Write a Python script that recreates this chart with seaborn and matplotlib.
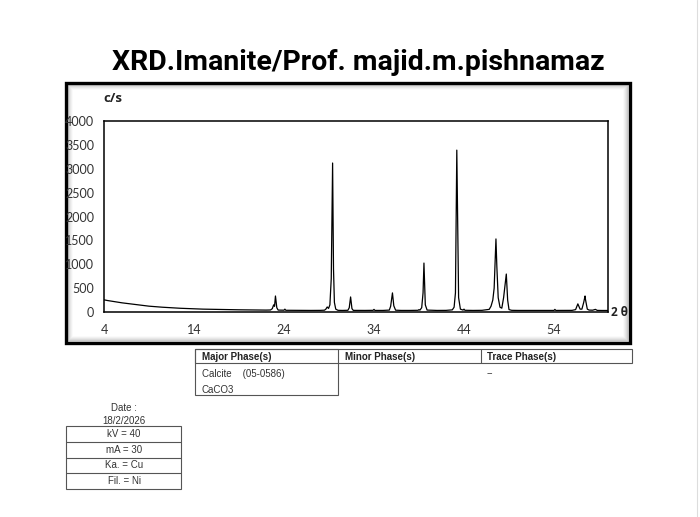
import matplotlib
matplotlib.use("Agg")
import matplotlib.pyplot as plt
from matplotlib.patches import Rectangle
from matplotlib.ticker import MultipleLocator, FixedLocator
import seaborn as sns
import pandas as pd

# ---- data ----
two_theta = [4.0, 4.4, 4.8, 5.2, 5.6, 6.0, 6.5, 7.0, 7.5, 8.0, 8.5, 9.0, 9.5, 10.0, 10.5,
             11.0, 11.5, 12.0, 12.5, 13.0, 13.5, 14.0, 14.5, 15.0, 16.0, 17.0, 18.0, 19.0,
             20.0, 21.0, 22.0, 22.5, 22.7, 22.85, 22.95, 23.05, 23.2, 23.35, 24.0, 24.1, 24.2,
             25.0, 26.0, 27.0, 28.0, 28.5, 28.65, 28.8, 28.95, 29.1, 29.25, 29.4, 29.5, 29.6,
             29.75, 30.0, 30.5, 31.1, 31.25, 31.4, 31.55, 31.7, 32.5, 33.0, 33.9, 34.0, 34.1,
             35.0, 35.7, 35.85, 36.05, 36.2, 36.4, 37.0, 38.0, 38.9, 39.0, 39.1, 39.3, 39.45,
             39.55, 39.7, 39.9, 41.0, 42.0, 42.7, 42.9, 43.05, 43.2, 43.3, 43.4, 43.6, 43.9,
             44.0, 44.1, 45.0, 46.0, 46.8, 47.0, 47.2, 47.35, 47.55, 47.65, 47.8, 48.0, 48.2,
             48.4, 48.7, 48.85, 49.0, 49.3, 50.0, 51.0, 52.0, 53.0, 54.0, 54.1, 54.2, 55.0,
             56.0, 56.4, 56.65, 56.9, 57.1, 57.3, 57.45, 57.5, 57.7, 57.9, 58.3, 58.6, 58.8,
             59.3, 60.0]
counts = [255, 240, 228, 215, 205, 192, 180, 168, 155, 142, 132, 122, 114, 106, 100,
          94, 88, 82, 78, 74, 70, 66, 63, 60, 56, 52, 49, 46,
          44, 42, 40, 42, 70, 150, 120, 335, 90, 40, 38, 60, 36,
          35, 34, 33, 34, 38, 60, 105, 75, 150, 700, 3120, 900, 200,
          60, 35, 33, 36, 90, 315, 70, 34, 32, 33, 35, 55, 33,
          33, 40, 120, 400, 130, 38, 33, 33, 36, 50, 38, 90, 400,
          1025, 150, 40, 33, 34, 45, 100, 400, 3390, 1900, 300, 60, 40,
          60, 36, 33, 35, 55, 120, 250, 500, 1530, 950, 300, 100, 80,
          300, 795, 250, 50, 35, 33, 33, 33, 33, 33, 55, 33, 33,
          34, 50, 170, 60, 60, 200, 335, 260, 60, 40, 38, 55, 34,
          32, 32]

x_major = [4, 14, 24, 34, 44, 54]
x_minor = [9, 19, 29, 39, 49, 59]
y_major = [0, 500, 1000, 1500, 2000, 2500, 3000, 3500, 4000]

title = "XRD.Imanite/Prof. majid.m.pishnamaz"
phase_headers = ["Major Phase(s)", "Minor Phase(s)", "Trace Phase(s)"]
major_rows = ["Calcite    (05-0586)", "CaCO3"]
trace_rows = ["--"]
date_lines = ["Date :", "18/2/2026"]
cond_rows = ["kV = 40", "mA = 30", "Ka. = Cu", "Fil. = Ni"]

df = pd.DataFrame({"two_theta": two_theta, "counts": counts})

sns.set_style("white")
plt.rcParams["font.family"] = ["Liberation Sans", "DejaVu Sans"]

W, H = 700, 517
fig = plt.figure(figsize=(W / 100, H / 100), dpi=100)

# overlay axes in pixel coordinates for the frame, title and tables
ov = fig.add_axes([0, 0, 1, 1], zorder=0)
ov.set_xlim(0, W)
ov.set_ylim(H, 0)
ov.axis("off")

# framed chart box with a soft inner shadow
for i, a in enumerate([0.14, 0.10, 0.07, 0.045, 0.025]):
    ov.add_patch(Rectangle((66 + 2 + i, 83 + 2 + i), 564 - 4 - 2 * i, 260 - 4 - 2 * i,
                           fill=False, ec="black", lw=1.2, alpha=a))
ov.add_patch(Rectangle((66, 83), 564, 260, fill=False, ec="black", lw=2.4))
ov.plot([697, 697], [0, H], color="#dddddd", lw=0.8)

ov.text(358, 62, title, ha="center", va="center", fontsize=20.5, fontweight="bold",
        family=["Roboto", "DejaVu Sans"], color="black")
ov.text(103, 98, "c/s", ha="left", va="center", fontsize=9.5, fontweight="bold",
        family=["Open Sans", "DejaVu Sans"], color="#222222")
ov.text(611, 312, "2 θ", ha="left", va="center", fontsize=8.5, fontweight="bold",
        family=["Open Sans", "DejaVu Sans"], color="#222222")

# phase table
tc = "#555555"
ov.add_patch(Rectangle((195, 349), 632 - 195, 14, fill=False, ec=tc, lw=0.8))
ov.add_patch(Rectangle((195, 349), 338 - 195, 395 - 349, fill=False, ec=tc, lw=0.8))
ov.plot([481, 481], [349, 363], color=tc, lw=0.8)
for xh, txt in zip([202, 345, 487], phase_headers):
    ov.text(xh, 356.5, txt, ha="left", va="center", fontsize=7, fontweight="bold", color="#222222")
for yy, txt in zip([374, 390], major_rows):
    ov.text(202, yy, txt, ha="left", va="center", fontsize=7, color="#333333")
for yy, txt in zip([373], trace_rows):
    ov.text(487, yy, txt, ha="left", va="center", fontsize=7, color="#333333")

# measurement conditions
for yy, txt in zip([408, 421], date_lines):
    ov.text(124, yy, txt, ha="center", va="center", fontsize=7, color="#333333")
row_y = [426, 442, 458, 473, 489]
ov.add_patch(Rectangle((66, row_y[0]), 115, row_y[-1] - row_y[0], fill=False, ec=tc, lw=0.8))
for yy in row_y[1:-1]:
    ov.plot([66, 181], [yy, yy], color=tc, lw=0.8)
for i, txt in enumerate(cond_rows):
    ov.text(124, (row_y[i] + row_y[i + 1]) / 2, txt, ha="center", va="center",
            fontsize=7, color="#333333")

# main XRD axes
ax = fig.add_axes([104 / W, 1 - 312 / H, (608 - 104) / W, (312 - 121) / H], zorder=2)
ax.patch.set_alpha(0)
sns.lineplot(data=df, x="two_theta", y="counts", ax=ax, color="black", lw=0.9,
             estimator=None, sort=False)
ax.set_xlim(4, 60)
ax.set_ylim(0, 4000)
ax.set_xlabel("")
ax.set_ylabel("")
ax.xaxis.set_major_locator(FixedLocator(x_major))
ax.xaxis.set_minor_locator(FixedLocator(x_minor))
ax.yaxis.set_major_locator(FixedLocator(y_major))
ax.yaxis.set_minor_locator(MultipleLocator(100))
for s in ax.spines.values():
    s.set_visible(True)
    s.set_color("black")
    s.set_linewidth(1.1)
ax.tick_params(axis="both", which="major", direction="in", length=3, width=0.9,
               colors="black", labelcolor="#333333", labelsize=9)
ax.tick_params(axis="x", which="major", pad=9)
ax.tick_params(axis="y", which="major", pad=7)
ax.tick_params(axis="both", which="minor", direction="in", length=2, width=0.6, colors="#333333")
ax.tick_params(axis="x", which="minor", length=3, width=0.9)
for lab in ax.get_xticklabels() + ax.get_yticklabels():
    lab.set_family(["Lato", "DejaVu Sans"])

fig.savefig("out.png", dpi=100, facecolor="white")
